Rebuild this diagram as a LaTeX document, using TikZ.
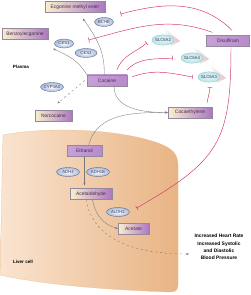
\documentclass[tikz,border=0pt]{standalone}
\usepackage{fontspec}
\setmainfont{Liberation Sans}
\usetikzlibrary{arrows.meta,shapes.geometric,calc}
\definecolor{boxline}{RGB}{150,136,156}
\definecolor{metyel}{RGB}{248,240,204}
\definecolor{metpur}{RGB}{172,120,194}
\definecolor{drugpur}{RGB}{184,138,204}
\definecolor{labtext}{RGB}{66,46,74}
\definecolor{enzline}{RGB}{84,102,144}
\definecolor{enzfill}{RGB}{168,186,220}
\definecolor{slcfill}{RGB}{186,230,232}
\definecolor{slcline}{RGB}{126,192,198}
\definecolor{slccone}{RGB}{226,190,200}
\definecolor{inhred}{RGB}{214,60,104}
\definecolor{convgray}{RGB}{120,120,120}
\definecolor{liverlt}{RGB}{250,228,208}
\definecolor{livermd}{RGB}{244,206,168}
\definecolor{liverdk}{RGB}{232,180,132}
\tikzset{
  metab/.style   ={draw=boxline, line width=0.4pt, minimum height=0.55cm, inner sep=1pt,
                   left color=metyel, right color=metpur, text=labtext, font=\fontsize{7}{8}\selectfont},
  drug/.style    ={metab, left color=drugpur!80!white, right color=drugpur},
  enz/.style     ={ellipse, draw=enzline, line width=0.5pt, inner sep=0pt, minimum width=1cm,
                   minimum height=0.45cm, inner color=white, outer color=enzfill, text=labtext,
                   font=\fontsize{6}{7}\selectfont},
  slc/.style     ={ellipse, draw=slcline, line width=0.4pt, inner sep=0pt, minimum width=1.05cm,
                   minimum height=0.52cm, inner color=slcfill!45!white, outer color=slcfill,
                   text=labtext, font=\fontsize{6}{7}\selectfont},
  conv/.style    ={draw=convgray, line width=0.5pt, -{Stealth[length=4pt,width=3pt]}},
  convdash/.style={conv, dash pattern=on 3pt off 4pt},
  inh/.style     ={draw=inhred, line width=0.7pt, -{Bar[width=7pt]}},
  regionlab/.style={font=\fontsize{6.5}{8}\selectfont\bfseries, text=black},
}
% transporter: cone behind an ellipse
\newcommand{\slcnode}[3]{%
  \shade[left color=white, right color=slccone] (#2) ++(1,12) -- ++(16,-13) -- ++(-9,-5) -- cycle;
  \node[slc] (#1) at (#2) {#3};}

\begin{document}
\begin{tikzpicture}[x=0.05cm,y=0.05cm]
  \useasboundingbox (0,0) rectangle (250,-295);
  % liver cell
  \shade[left color=liverlt, middle color=livermd, right color=liverdk, draw=liverdk, line width=0.3pt]
    (3,-135) .. controls (45,-127) and (115,-128) .. (158,-143)
    .. controls (174,-149) and (178,-155) .. (178,-166) -- (178,-284)
    .. controls (178,-290) and (176,-292) .. (170,-292)
    .. controls (110,-290) and (45,-285) .. (0,-275) -- cycle;
  \node[regionlab] (plasma) at (21,-67) {Plasma};
  \node[regionlab] (liver) at (23,-262) {Liver cell};

  % metabolites and drugs
  \node[metab, minimum width=3cm]    (ecg)     at (75,-7)      {Ecgonine methyl ester};
  \node[metab, minimum width=2.3cm]  (benz)    at (25,-34)     {Benzoylecgonine};
  \node[drug,  minimum width=2cm]    (cocaine) at (107,-80.5)  {Cocaine};
  \node[drug,  minimum width=2.15cm] (disul)   at (228,-41)    {Disulfiram};
  \node[metab, minimum width=1.85cm] (norc)    at (53.5,-116)  {Norcocaine};
  \node[metab, minimum width=2.2cm]  (cocaeth) at (190,-112.5) {Cocaethylene};
  \node[drug,  minimum width=1.75cm] (ethanol) at (84.5,-150.5){Ethanol};
  \node[metab, minimum width=2.1cm]  (acetald) at (91,-194)    {Acetaldehyde};
  \node[metab, minimum width=1.55cm] (acetate) at (133.5,-228.5){Acetate};

  % enzymes
  \node[enz, minimum width=0.95cm] (bche)  at (104,-22)   {BCHE};
  \node[enz, minimum width=0.95cm] (ces1)  at (64,-43.5)  {CES1};
  \node[enz, minimum width=1.1cm]  (ces2)  at (86,-53)    {CES2};
  \node[enz]                       (cyp)   at (52,-87)    {CYP3A4};
  \node[enz, minimum width=1.15cm] (adh4)  at (68,-172)   {ADH4};
  \node[enz, minimum width=1.15cm] (adh1b) at (98,-172)   {ADH1B};
  \node[enz, minimum width=1.15cm] (aldh2) at (118,-212)  {ALDH2};
  \slcnode{slc2}{163,-40}{SLC6A2}
  \slcnode{slc4}{192,-58}{SLC6A4}
  \slcnode{slc3}{209,-77}{SLC6A3}

  \node[regionlab, align=center, font=\fontsize{7}{10.5}\selectfont\bfseries] (effects) at (219,-247)
    {Increased Heart Rate\\Increased Systolic\\and Diastolic\\Blood Pressure};

  % conversions
  \draw[conv] ([xshift=-4]cocaine.north) to[out=88,in=-55] ($(ecg.south)+(8,-6)$);
  \draw[conv] (cocaine.north west) to[out=120,in=-25] ($(benz.south east)+(5,-9)$);
  \draw[convdash] ([xshift=-3]cocaine.west) -- ($(norc.north)+(4,7)$);
  \draw[conv] ([xshift=10]cocaine.south) to[out=-90,in=180] (cocaeth.west);
  \draw[conv] ([xshift=6]ethanol.north) to[out=75,in=180] (cocaeth.west);
  \draw[conv, shorten >=4pt] (ethanol.south) -- (ethanol.south |- acetald.north);
  \draw[conv] ([xshift=2]acetald.south) to[out=-80,in=165] (acetate.west);
  \draw[convdash] ([xshift=-7]acetald.south) to[out=-80,in=180] ($(effects.west)+(-3,-7)$);

  % inhibitions
  \draw[inh] ([shift={(4,5)}]disul.north) to[out=135,in=15] ($(bche.east)+(7,8)$);
  \draw[inh] ([shift={(6,3)}]disul.north west) to[out=160,in=15] ($(ces1.east)+(15,3.5)$);
  \draw[inh] ([shift={(3,-1)}]disul.south) to[out=-90,in=30,looseness=1.3] ($(aldh2.east)+(7,4)$);
  \draw[inh] ([shift={(10,5)}]cocaine.north) to[out=70,in=-140] ($(slc2.west)+(-5,-3)$);
  \draw[inh] ([shift={(20,5)}]cocaine.north) to[out=45,in=185] ($(slc4.west)+(-8,0)$);
  \draw[inh] ([shift={(5,-2)}]cocaine.north east) to[out=20,in=170] ($(slc3.west)+(-5,0)$);
  \draw[inh] ([shift={(17,4)}]cocaeth.north) to[out=80,in=-95] ($(slc3.south)+(1,-5)$);
\end{tikzpicture}
\end{document}
